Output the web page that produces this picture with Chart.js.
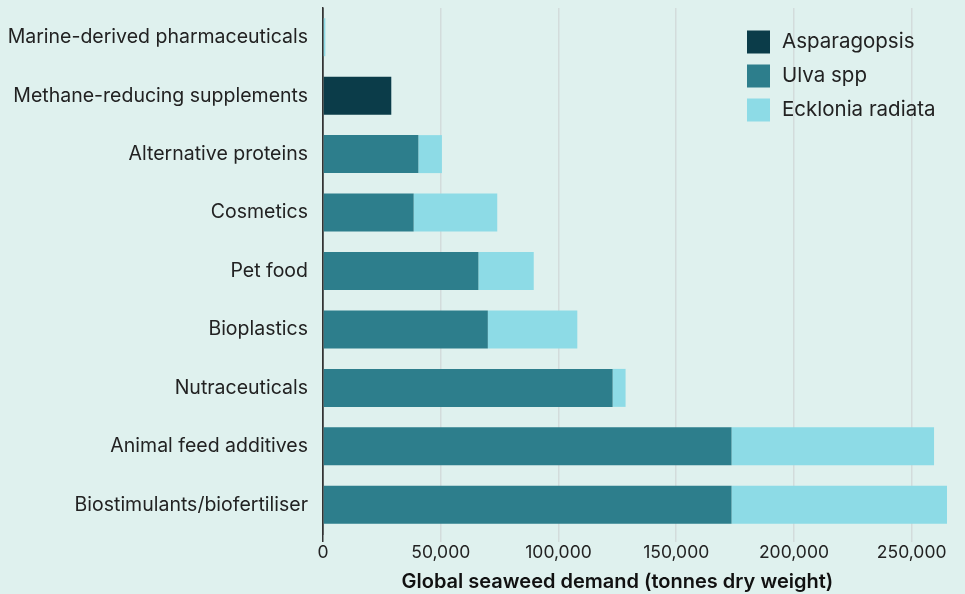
<!DOCTYPE html>
<html>
<head>
<meta charset="utf-8">
<script src="https://cdn.jsdelivr.net/npm/chart.js@4"></script>
<style>
  body { margin: 0; background: #dff1ee; }
  #wrap { width: 965px; height: 594px; }
</style>
</head>
<body>
<div id="wrap"><canvas id="myChart" width="965" height="594"></canvas></div>
<script>
'use strict';

// data
let categories = [
  'Marine-derived pharmaceuticals',
  'Methane-reducing supplements',
  'Alternative proteins',
  'Cosmetics',
  'Pet food',
  'Bioplastics',
  'Nutraceuticals',
  'Animal feed additives',
  'Biostimulants/biofertiliser'
];
let asparagopsis = [null, 29000, null, null, null, null, null, null, null];
let ulva = [null, null, 40500, 38500, 66000, 70000, 123000, 173500, 173500];
let ecklonia = [1000, null, 10000, 35500, 23500, 38000, 5500, 86000, 91500];
let xTicks = [0, 50000, 100000, 150000, 200000, 250000];

let seriesNames = ['Asparagopsis', 'Ulva spp', 'Ecklonia radiata'];
let seriesColors = ['#0b3c49', '#2d7e8c', '#8ddbe6'];

let fontFamily = 'Inter, "Noto Sans", sans-serif';

// legend drawn inside the plot, top right
let insideLegend = {
  id: 'insideLegend',
  afterDraw(chart) {
    let ctx = chart.ctx;
    ctx.save();
    ctx.font = '20.5px ' + fontFamily;
    ctx.textBaseline = 'middle';
    ctx.textAlign = 'left';
    chart.data.datasets.forEach((ds, i) => {
      let y = 42 + i * 34;
      ctx.fillStyle = ds.backgroundColor;
      ctx.fillRect(747, y - 11.5, 23, 23);
      ctx.fillStyle = '#222';
      ctx.fillText(ds.label, 782, y);
    });
    ctx.restore();
  }
};

let datasets = [asparagopsis, ulva, ecklonia].map((values, i) => ({
  label: seriesNames[i],
  data: values,
  backgroundColor: seriesColors[i],
  borderWidth: 0,
  barPercentage: 0.65,
  categoryPercentage: 1
}));

let chartObject = {
  type: 'bar',
  data: { labels: categories, datasets: datasets },
  options: {
    indexAxis: 'y',
    responsive: false,
    animation: false,
    layout: { padding: { top: 8, right: 18, bottom: 0, left: 0 } },
    plugins: {
      legend: { display: false },
      tooltip: { enabled: false }
    },
    scales: {
      x: {
        stacked: true,
        min: 0,
        max: 265000,
        afterBuildTicks(scale) {
          scale.ticks = xTicks.map(v => ({ value: v }));
        },
        ticks: {
          color: '#222',
          padding: 0,
          font: { family: fontFamily, size: 17.5 },
          callback: v => v.toLocaleString('en-US')
        },
        grid: {
          color: c => (c.tick && c.tick.value === 0) ? '#333' : '#d3dcdb',
          lineWidth: 1.5,
          tickLength: 8
        },
        border: { display: false },
        title: {
          display: true,
          // trailing spaces nudge the centred title left, as in the reference
          text: 'Global seaweed demand (tonnes dry weight)       ',
          color: '#111',
          font: { family: fontFamily, size: 20, weight: '600' },
          padding: { top: 7, bottom: 0 }
        }
      },
      y: {
        stacked: true,
        afterFit(scale) {
          scale.width = 323;
          scale.paddingTop = 0;
          scale.paddingBottom = 0;
        },
        ticks: {
          color: '#222',
          padding: 15,
          font: { family: fontFamily, size: 19.5 }
        },
        grid: { display: false, drawTicks: false },
        border: { display: true, color: '#333', width: 1.5 }
      }
    }
  },
  plugins: [insideLegend]
};

let ctx = document.getElementById('myChart').getContext('2d');
let myChart = new Chart(ctx, chartObject);
</script>
</body>
</html>
